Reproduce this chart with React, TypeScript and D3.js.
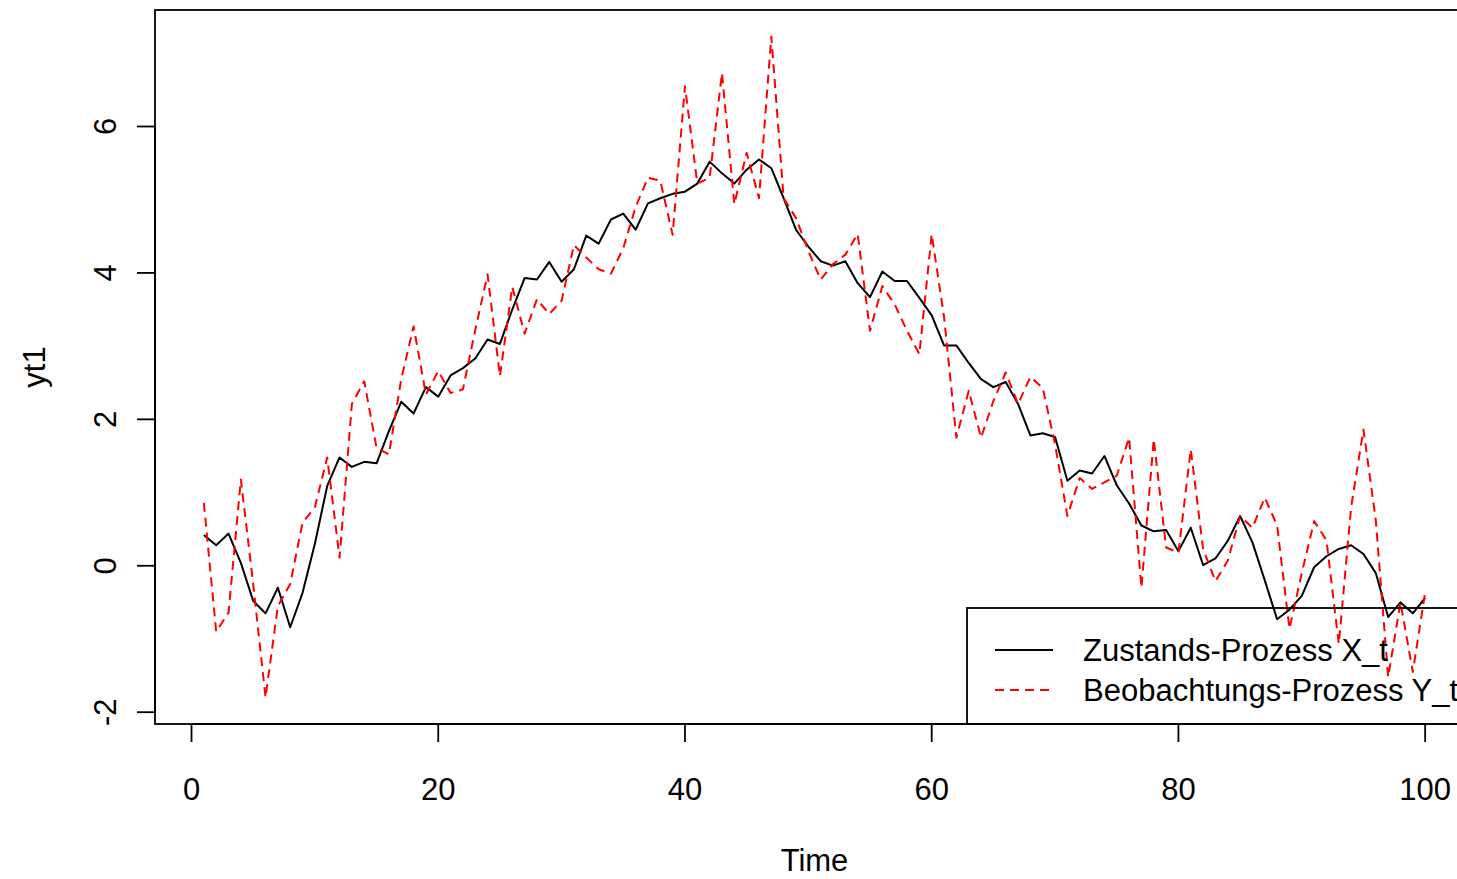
import React from "react";
import * as d3 from "d3";

const timeIdx: number[] = d3.range(1, 101);

const stateX: number[] = [
  0.42, 0.28, 0.44, 0.04, -0.48, -0.65, -0.30, -0.84, -0.37, 0.30,
  1.09, 1.48, 1.35, 1.42, 1.40, 1.84, 2.24, 2.08, 2.44, 2.31,
  2.60, 2.70, 2.83, 3.09, 3.03, 3.50, 3.93, 3.91, 4.15, 3.88,
  4.05, 4.51, 4.40, 4.73, 4.81, 4.59, 4.95, 5.02, 5.08, 5.11,
  5.22, 5.52, 5.36, 5.22, 5.41, 5.55, 5.43, 5.02, 4.59, 4.36,
  4.16, 4.10, 4.16, 3.86, 3.67, 4.02, 3.89, 3.89, 3.66, 3.42,
  3.01, 3.01, 2.77, 2.55, 2.44, 2.51, 2.21, 1.78, 1.81, 1.76,
  1.16, 1.30, 1.26, 1.50, 1.10, 0.85, 0.55, 0.47, 0.49, 0.20,
  0.52, 0.01, 0.10, 0.34, 0.68, 0.32, -0.20, -0.73, -0.60, -0.41,
  -0.02, 0.13, 0.23, 0.28, 0.16, -0.10, -0.70, -0.50, -0.65, -0.44,
];

const obsY: number[] = [
  0.86, -0.90, -0.64, 1.18, -0.25, -1.80, -0.55, -0.25, 0.59, 0.80,
  1.48, 0.11, 2.21, 2.52, 1.61, 1.52, 2.55, 3.27, 2.34, 2.66,
  2.36, 2.41, 3.22, 3.98, 2.59, 3.81, 3.17, 3.64, 3.44, 3.62,
  4.38, 4.21, 4.05, 3.99, 4.34, 4.90, 5.30, 5.26, 4.52, 6.55,
  5.22, 5.30, 6.73, 4.94, 5.64, 5.02, 7.23, 5.02, 4.75, 4.30,
  3.91, 4.12, 4.25, 4.53, 3.21, 3.82, 3.57, 3.21, 2.89, 4.53,
  3.40, 1.75, 2.39, 1.75, 2.25, 2.64, 2.21, 2.58, 2.43, 1.66,
  0.68, 1.20, 1.05, 1.14, 1.23, 1.75, -0.30, 1.73, 0.25, 0.18,
  1.59, 0.23, -0.21, 0.07, 0.68, 0.52, 0.93, 0.55, -0.86, -0.10,
  0.61, 0.35, -1.07, 0.80, 1.86, 0.62, -1.52, -0.50, -1.45, -0.36,
];

const xTicks: number[] = [0, 20, 40, 60, 80, 100];
const yTicks: number[] = [-2, 0, 2, 4, 6];
const legendLabels: string[] = ["Zustands-Prozess X_t", "Beobachtungs-Prozess Y_t"];

const W = 1457;
const H = 879;
const FONT = "'Liberation Sans', Arial, Helvetica, sans-serif";
const FS = 31;

function ext(lo: number, hi: number): [number, number] {
  const d = (hi - lo) * 0.04;
  return [lo - d, hi + d];
}

export default function App() {
  const xDom = ext(d3.min(timeIdx)!, d3.max(timeIdx)!);
  const allY = stateX.concat(obsY);
  const yDom = ext(d3.min(allY)!, d3.max(allY)!);

  const left = 155;
  const right = 1474;
  const top = 10;
  const bottom = 724;

  const x = d3.scaleLinear().domain(xDom).range([left, right]);
  const y = d3.scaleLinear().domain(yDom).range([bottom, top]);

  const line = d3
    .line<number>()
    .x((_, i) => x(timeIdx[i]))
    .y((d) => y(d));

  const tick = 18;

  const legLeft = 967;
  const legTop = 608;
  const rowY = [650, 690];

  return (
    <svg
      width={W}
      height={H}
      style={{ position: "absolute", left: 0, top: 0, background: "#fff" }}
      fontFamily={FONT}
    >
      <defs>
        <clipPath id="plotclip">
          <rect x={left} y={top} width={right - left} height={bottom - top} />
        </clipPath>
      </defs>
      <rect x={0} y={0} width={W} height={H} fill="#fff" />

      <g clipPath="url(#plotclip)">
        <path d={line(stateX) || ""} fill="none" stroke="#000" strokeWidth={2} strokeLinejoin="round" />
        <path
          d={line(obsY) || ""}
          fill="none"
          stroke="#ff0000"
          strokeWidth={2}
          strokeDasharray="9,6"
          strokeLinejoin="round"
        />
      </g>

      {/* box */}
      <rect x={left} y={top} width={right - left} height={bottom - top} fill="none" stroke="#000" strokeWidth={1.8} />

      {/* x axis */}
      <line x1={x(xTicks[0])} x2={x(xTicks[xTicks.length - 1])} y1={bottom} y2={bottom} stroke="#000" strokeWidth={1.8} />
      {xTicks.map((t) => (
        <g key={"xt" + t}>
          <line x1={x(t)} x2={x(t)} y1={bottom} y2={bottom + tick} stroke="#000" strokeWidth={1.8} />
          <text x={x(t)} y={800} textAnchor="middle" fontSize={FS} fill="#000">
            {t}
          </text>
        </g>
      ))}
      <text x={(left + right) / 2} y={871} textAnchor="middle" fontSize={FS} fill="#000">
        Time
      </text>

      {/* y axis */}
      <line x1={left} x2={left} y1={y(yTicks[0])} y2={y(yTicks[yTicks.length - 1])} stroke="#000" strokeWidth={1.8} />
      {yTicks.map((t) => (
        <g key={"yt" + t}>
          <line x1={left - tick} x2={left} y1={y(t)} y2={y(t)} stroke="#000" strokeWidth={1.8} />
          <text
            transform={`translate(116,${y(t)}) rotate(-90)`}
            textAnchor="middle"
            fontSize={FS}
            fill="#000"
          >
            {t}
          </text>
        </g>
      ))}
      <text
        transform={`translate(45,${(top + bottom) / 2}) rotate(-90)`}
        textAnchor="middle"
        fontSize={FS}
        fill="#000"
      >
        yt1
      </text>

      {/* legend */}
      <rect x={legLeft} y={legTop} width={right - legLeft} height={bottom - legTop} fill="none" stroke="#000" strokeWidth={1.8} />
      <line x1={995} x2={1053} y1={rowY[0]} y2={rowY[0]} stroke="#000" strokeWidth={1.8} />
      <line x1={995} x2={1053} y1={rowY[1]} y2={rowY[1]} stroke="#ff0000" strokeWidth={1.8} strokeDasharray="9,6" />
      {legendLabels.map((l, i) => (
        <text key={l} x={1083} y={rowY[i] + 11} fontSize={FS} fill="#000">
          {l}
        </text>
      ))}
    </svg>
  );
}
